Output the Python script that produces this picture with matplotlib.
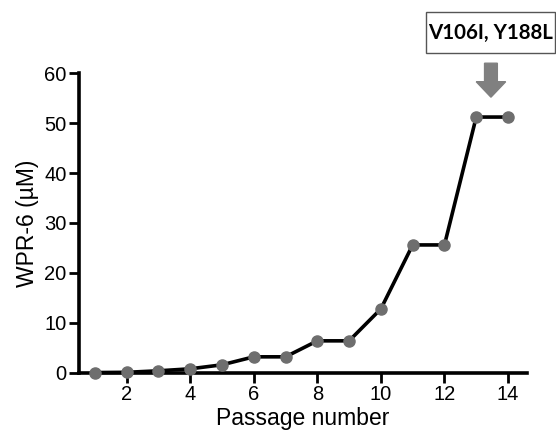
import numpy as np
import matplotlib.pyplot as plt
from matplotlib.patches import FancyArrow, Rectangle

passage = [1, 2, 3, 4, 5, 6, 7, 8, 9, 10, 11, 12, 13, 14]
wpr6 = [0.05, 0.1, 0.4, 0.8, 1.6, 3.2, 3.2, 6.4, 6.4, 12.8, 25.6, 25.6, 51.2, 51.2]
xticks = [2, 4, 6, 8, 10, 12, 14]
yticks = [0, 10, 20, 30, 40, 50, 60]

plt.rcParams['font.family'] = ['Liberation Sans', 'DejaVu Sans']

fig = plt.figure(figsize=(5.56, 4.30), dpi=100)
ax = fig.add_axes([0.142, 0.133, 0.806, 0.697])
ax.plot(passage, wpr6, color='black', lw=2.6, marker='o', ms=8,
        mfc='#6e6e6e', mec='#6e6e6e', zorder=3, clip_on=False)
ax.set_xlim(0.5, 14.6)
ax.set_ylim(0, 60)
ax.set_xticks(xticks)
ax.set_yticks(yticks)
for s in ['top', 'right']:
    ax.spines[s].set_visible(False)
for s in ['left', 'bottom']:
    ax.spines[s].set_linewidth(2.6)
ax.tick_params(width=2, length=7, labelsize=14.5, direction='out', pad=2)
ax.set_xlabel('Passage number', fontsize=16.5, labelpad=2)
ax.set_ylabel('WPR-6 (µM)', fontsize=16.5, labelpad=4)

# label box + arrow pointing at passage 13
fig.patches.append(Rectangle((0.767, 0.877), 0.231, 0.095, fc='white',
                             ec='#555555', lw=1, transform=fig.transFigure,
                             figure=fig))
fig.text(0.882, 0.924, 'V106I, Y188L', fontsize=14.8, fontweight='bold',
         family=['Lato', 'DejaVu Sans'], ha='center', va='center')
fig.patches.append(FancyArrow(0.883, 0.853, 0, -0.079, width=0.023,
                              head_width=0.053, head_length=0.036,
                              length_includes_head=True, color='#808080',
                              transform=fig.transFigure, figure=fig))

fig.savefig('out.png', dpi=100)
